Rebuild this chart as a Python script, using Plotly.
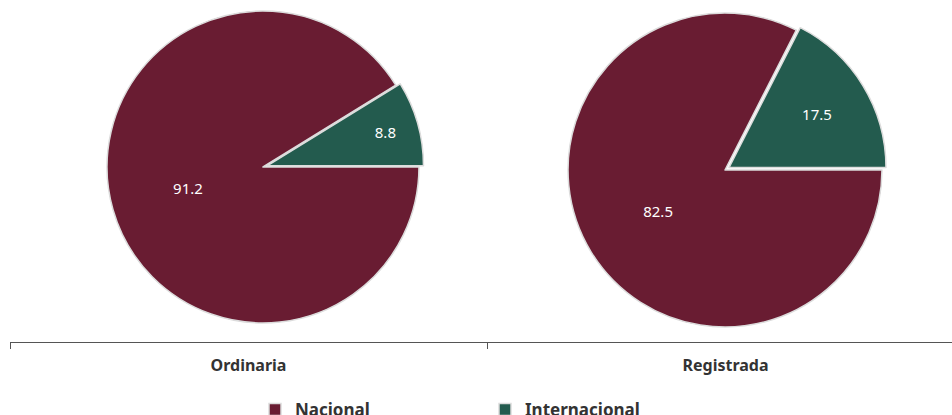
import plotly.graph_objects as go

categories = ["Ordinaria", "Registrada"]
labels = ["Nacional", "Internacional"]
ordinaria_values = [91.2, 8.8]
registrada_values = [82.5, 17.5]
colors = ["#691C32", "#235B4E"]

W, H = 952, 415
PULL = 0.03

def dom(cx, cy, r):
    half = r * (1 + PULL) + 1
    return dict(x=[(cx - half) / W, (cx + half) / W],
                y=[1 - (cy + half) / H, 1 - (cy - half) / H])

fig = go.Figure()
for vals, d, name in [(ordinaria_values, dom(263, 167, 155), categories[0]),
                      (registrada_values, dom(725, 170, 156), categories[1])]:
    fig.add_trace(go.Pie(
        labels=labels, values=vals, name=name,
        sort=False, direction="clockwise", rotation=90,
        pull=[0, PULL],
        marker=dict(colors=colors, line=dict(color="#dcdcdc", width=1.5)),
        textinfo="value", texttemplate="%{value}",
        textposition="inside", insidetextorientation="horizontal",
        textfont=dict(color="white", size=15, family="Noto Sans"),
        domain=d, hoverinfo="label+value",
    ))

# invisible cartesian trace to carry the category axis
fig.add_trace(go.Scatter(x=categories, y=[0, 0], mode="markers",
                         marker=dict(opacity=0), showlegend=False,
                         hoverinfo="skip", xaxis="x", yaxis="y"))

fig.update_layout(
    width=W, height=H,
    margin=dict(l=0, r=0, t=0, b=0, autoexpand=False),
    paper_bgcolor="white", plot_bgcolor="rgba(0,0,0,0)",
    font=dict(family="Noto Sans", color="#333333"),
    xaxis=dict(domain=[10 / W, 1], range=[-0.5, -0.5 + 942 / 477],
               type="category", anchor="free", position=1 - 342 / H,
               showline=True, linecolor="#555555", linewidth=1,
               showgrid=False, zeroline=False,
               ticks="outside", tickson="boundaries", ticklen=6,
               tickcolor="#555555", ticklabelstandoff=9,
               tickfont=dict(size=16, family="Noto Sans", color="#333333",
                             weight="bold"),
               fixedrange=True, automargin=False),
    yaxis=dict(domain=[0, 1 - 342 / H], visible=False, range=[0, 1],
               fixedrange=True),
    showlegend=True,
    legend=dict(orientation="h", xref="container", yref="container",
                x=255 / W, xanchor="left",
                y=1 - 392 / H, yanchor="top",
                entrywidth=185, entrywidthmode="pixels",
                font=dict(size=17, family="Noto Sans", color="#333333",
                          weight="bold"),
                itemclick=False, itemdoubleclick=False),
)

fig.write_html("out.html",
               config={"displayModeBar": False},
               post_script="document.body.style.margin='0';")
